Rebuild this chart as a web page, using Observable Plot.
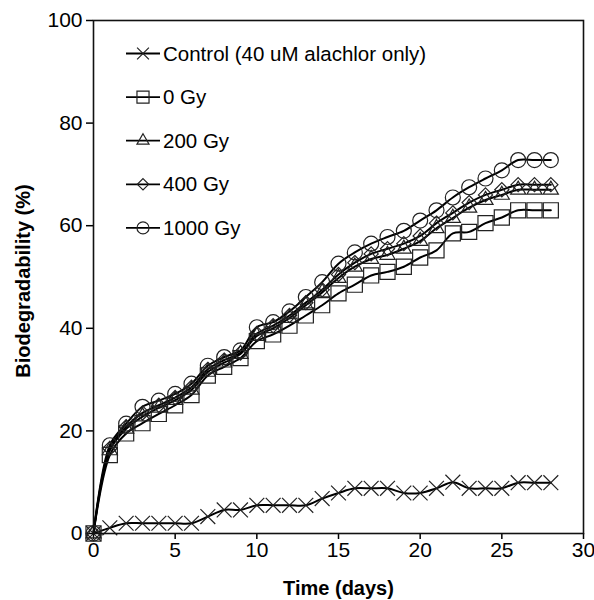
<!DOCTYPE html>
<html><head><meta charset="utf-8">
<script src="https://cdn.jsdelivr.net/npm/d3@7"></script>
<script src="https://cdn.jsdelivr.net/npm/@observablehq/plot@0.6"></script>
<style>
body{margin:0;background:#fff;}
#chart{width:594px;height:600px;}
</style></head><body><div id="chart"></div>
<script>
const days = [0,1,2,3,4,5,6,7,8,9,10,11,12,13,14,15,16,17,18,19,20,21,22,23,24,25,26,27,28];
const control = [0,1.1,2,2,2,2,2,3.3,4.6,4.6,5.5,5.5,5.5,5.5,6.8,7.9,8.8,8.8,8.8,7.9,7.9,8.8,10,8.8,8.8,8.8,9.9,9.9,9.9];
const gy0 = [0,15.3,19.5,21.5,23.3,25,27,30.8,32.5,34.2,37.5,38.8,40.5,42.5,44.5,46.8,48.5,50.3,51,52,53.8,55.2,58.5,58.8,60.5,61.6,63,63,63];
const gy200 = [0,16.2,20.4,22.8,24.5,26,28,31.5,33.3,35,38.5,40,42,44.5,47,49.8,52,53.5,54.3,55.5,57,59.5,61.5,63.5,65,66,67,67,67];
const gy400 = [0,16.6,20.8,23.5,25,26.5,28.5,32,33.8,35.2,39,40.5,42.5,45,47.5,50.5,52.8,54.5,55.5,56.5,58,60.5,62.5,64.5,66,67,68,68,68];
const gy1000 = [0,17.2,21.4,24.7,25.9,27.2,29.2,32.7,34.4,35.7,40.2,41.2,43.3,46.1,49,52.6,54.8,56.5,57.8,59,61,63,65.5,67.5,69.2,70.8,72.8,72.8,72.8];
const seriesNames = ["Control (40 uM alachlor only)","0 Gy","200 Gy","400 Gy","1000 Gy"];
const seriesValues = [control, gy0, gy200, gy400, gy1000];
const seriesSymbols = ["times","square2","triangle2","diamond2","circle"];
const symbolRadius = [6.8, 9.6, 7.2, 6.4, 7.5];
const xTicks = [0,5,10,15,20,25,30];
const yTicks = [0,20,40,60,80,100];
const xLabel = "Time (days)";
const yLabel = "Biodegradability (%)";

const series = seriesNames.map((name, i) => ({
  name, symbol: seriesSymbols[i], r: symbolRadius[i],
  data: days.map((d, j) => ({day: d, value: seriesValues[i][j]}))
}));

const font = "Liberation Sans, Arial, Helvetica, sans-serif";
const plot = Plot.plot({
  width: 594, height: 600,
  marginLeft: 93, marginRight: 11, marginTop: 20, marginBottom: 67,
  style: {fontFamily: font, fontSize: "21px", color: "#000", background: "#fff"},
  x: {domain: [0, 30], label: null},
  y: {domain: [0, 100], label: null},
  marks: [
    Plot.axisX({ticks: xTicks, tickSize: 6, tickPadding: 3, label: null, fontSize: 21, strokeWidth: 1.5}),
    Plot.axisY({ticks: yTicks, tickSize: 7, tickPadding: 4, label: null, fontSize: 21, strokeWidth: 1.5}),
    ...series.map(s => Plot.line(s.data, {x: "day", y: "value", stroke: "#000", strokeWidth: 2, curve: "catmull-rom"})),
    ...series.map(s => Plot.dot(s.data, {x: "day", y: "value", symbol: () => s.symbol, r: s.r, stroke: "#222", strokeWidth: 1.2, fill: "none"})),
    Plot.frame({stroke: "#111", strokeWidth: 1.6}),
    Plot.text([xLabel], {frameAnchor: "bottom", textAnchor: "middle", lineAnchor: "middle", dy: 55, fontWeight: "bold", fontSize: 20}),
    Plot.text([yLabel], {frameAnchor: "left", textAnchor: "middle", lineAnchor: "middle", dx: -70, dy: 4, rotate: -90, fontWeight: "bold", fontSize: 20})
  ]
});
document.getElementById("chart").appendChild(plot);

// legend inside the plot area (top-left)
const svg = d3.select(plot);
const lg = svg.append("g").attr("font-family", font).attr("font-size", 20.5).attr("text-anchor", "start");
const types = {times: d3.symbolTimes, square2: d3.symbolSquare2, triangle2: d3.symbolTriangle2, diamond2: d3.symbolDiamond2, circle: d3.symbolCircle};
series.forEach((s, i) => {
  const cy = 53.5 + i * 43.6;
  lg.append("line").attr("x1", 126).attr("x2", 160).attr("y1", cy).attr("y2", cy)
    .attr("stroke", "#000").attr("stroke-width", 1.8);
  const rr = s.r * 0.8;
  lg.append("path").attr("d", d3.symbol(types[s.symbol], Math.PI * rr * rr)())
    .attr("transform", `translate(143,${cy})`).attr("fill", "none").attr("stroke", "#222").attr("stroke-width", 1.2);
  lg.append("text").attr("x", 163).attr("y", cy).attr("dy", "0.35em").attr("fill", "#000").text(s.name);
});
</script></body></html>
